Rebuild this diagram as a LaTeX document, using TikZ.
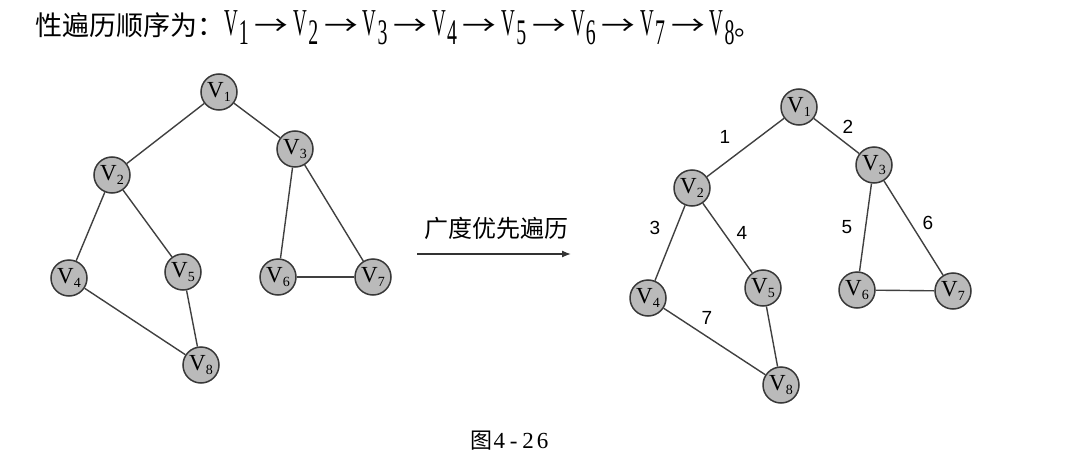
\documentclass[tikz,border=0pt]{standalone}
\usepackage{graphicx}
\usepackage{fontspec}
\setmainfont{Liberation Serif}
\setsansfont{Liberation Sans}
\newfontfamily\cjk{Noto Sans CJK SC}
\usetikzlibrary{arrows.meta}
\newcommand{\vname}[1]{V\raisebox{-0.45ex}{\fontsize{14}{14}\selectfont #1}}
\newcommand{\tv}[1]{\scalebox{0.5}[1]{\fontsize{38}{38}\selectfont V}\kern1pt\raisebox{-9pt}{\scalebox{0.55}[1]{\fontsize{36}{36}\selectfont #1}}}
\newcommand{\tarr}{\kern6pt\scalebox{1.25}[1]{\cjk →}\kern5pt}
\newcommand{\cd}[1]{\makebox[14.5pt]{#1}}

\begin{document}
\begin{tikzpicture}[x=1pt,y=-1pt,>={Latex[length=9pt,width=7pt]},
  vtx/.style={circle,draw=black!78,line width=1.5pt,fill=black!27,minimum size=36pt,inner sep=0pt,font=\fontsize{23}{23}\selectfont},
  lnk/.style={draw=black!75,line width=1.4pt},
  num/.style={font=\sffamily\fontsize{19}{19}\selectfont}]
  \useasboundingbox (0,0) rectangle (1072,463);
  % title line
  \node[anchor=west,inner sep=0pt,font=\fontsize{27}{27}\selectfont] (title) at (35,28)
    {{\cjk 性遍历顺序为：}\tv{1}\tarr\tv{2}\tarr\tv{3}\tarr\tv{4}\tarr\tv{5}\tarr\tv{6}\tarr\tv{7}\tarr\tv{8}{\cjk 。}};
  % left graph
  \foreach \n/\x/\y in {1/219/92,2/112/175,3/295/149,4/69/278,5/183/272,6/278/277,7/373/277,8/201/365}
    \node[vtx] (a\n) at (\x,\y) {\vname{\n}};
  \foreach \s/\t in {1/2,1/3,2/4,2/5,3/6,3/7,6/7,4/8,5/8}
    \draw[lnk] (a\s) -- (a\t);
  % arrow
  \coordinate (from) at (417,254);
  \coordinate (to) at (571,254);
  \draw[->,line width=1.3pt,black!80] (from) -- (to);
  \node[font=\cjk\fontsize{24}{24}\selectfont] (bfs) at (496,228) {广度优先遍历};
  % right graph
  \foreach \n/\x/\y in {1/799/107,2/692/188,3/874/165,4/648/298,5/763/288,6/857/290,7/953/291,8/781/385}
    \node[vtx] (b\n) at (\x,\y) {\vname{\n}};
  \foreach \s/\t in {1/2,1/3,2/4,2/5,3/6,3/7,6/7,4/8,5/8}
    \draw[lnk] (b\s) -- (b\t);
  \foreach \k/\x/\y in {1/725/137,2/848/127,3/655/228,4/742/233,5/847/227,6/928/223,7/707/318}
    \node[num] (n\k) at (\x,\y) {\k};
  % caption
  \node[font=\fontsize{23}{23}\selectfont] (cap) at (510,441) {{\cjk\fontsize{22}{22}\selectfont 图}\cd{4}\cd{-}\cd{2}\cd{6}};
\end{tikzpicture}
\end{document}
